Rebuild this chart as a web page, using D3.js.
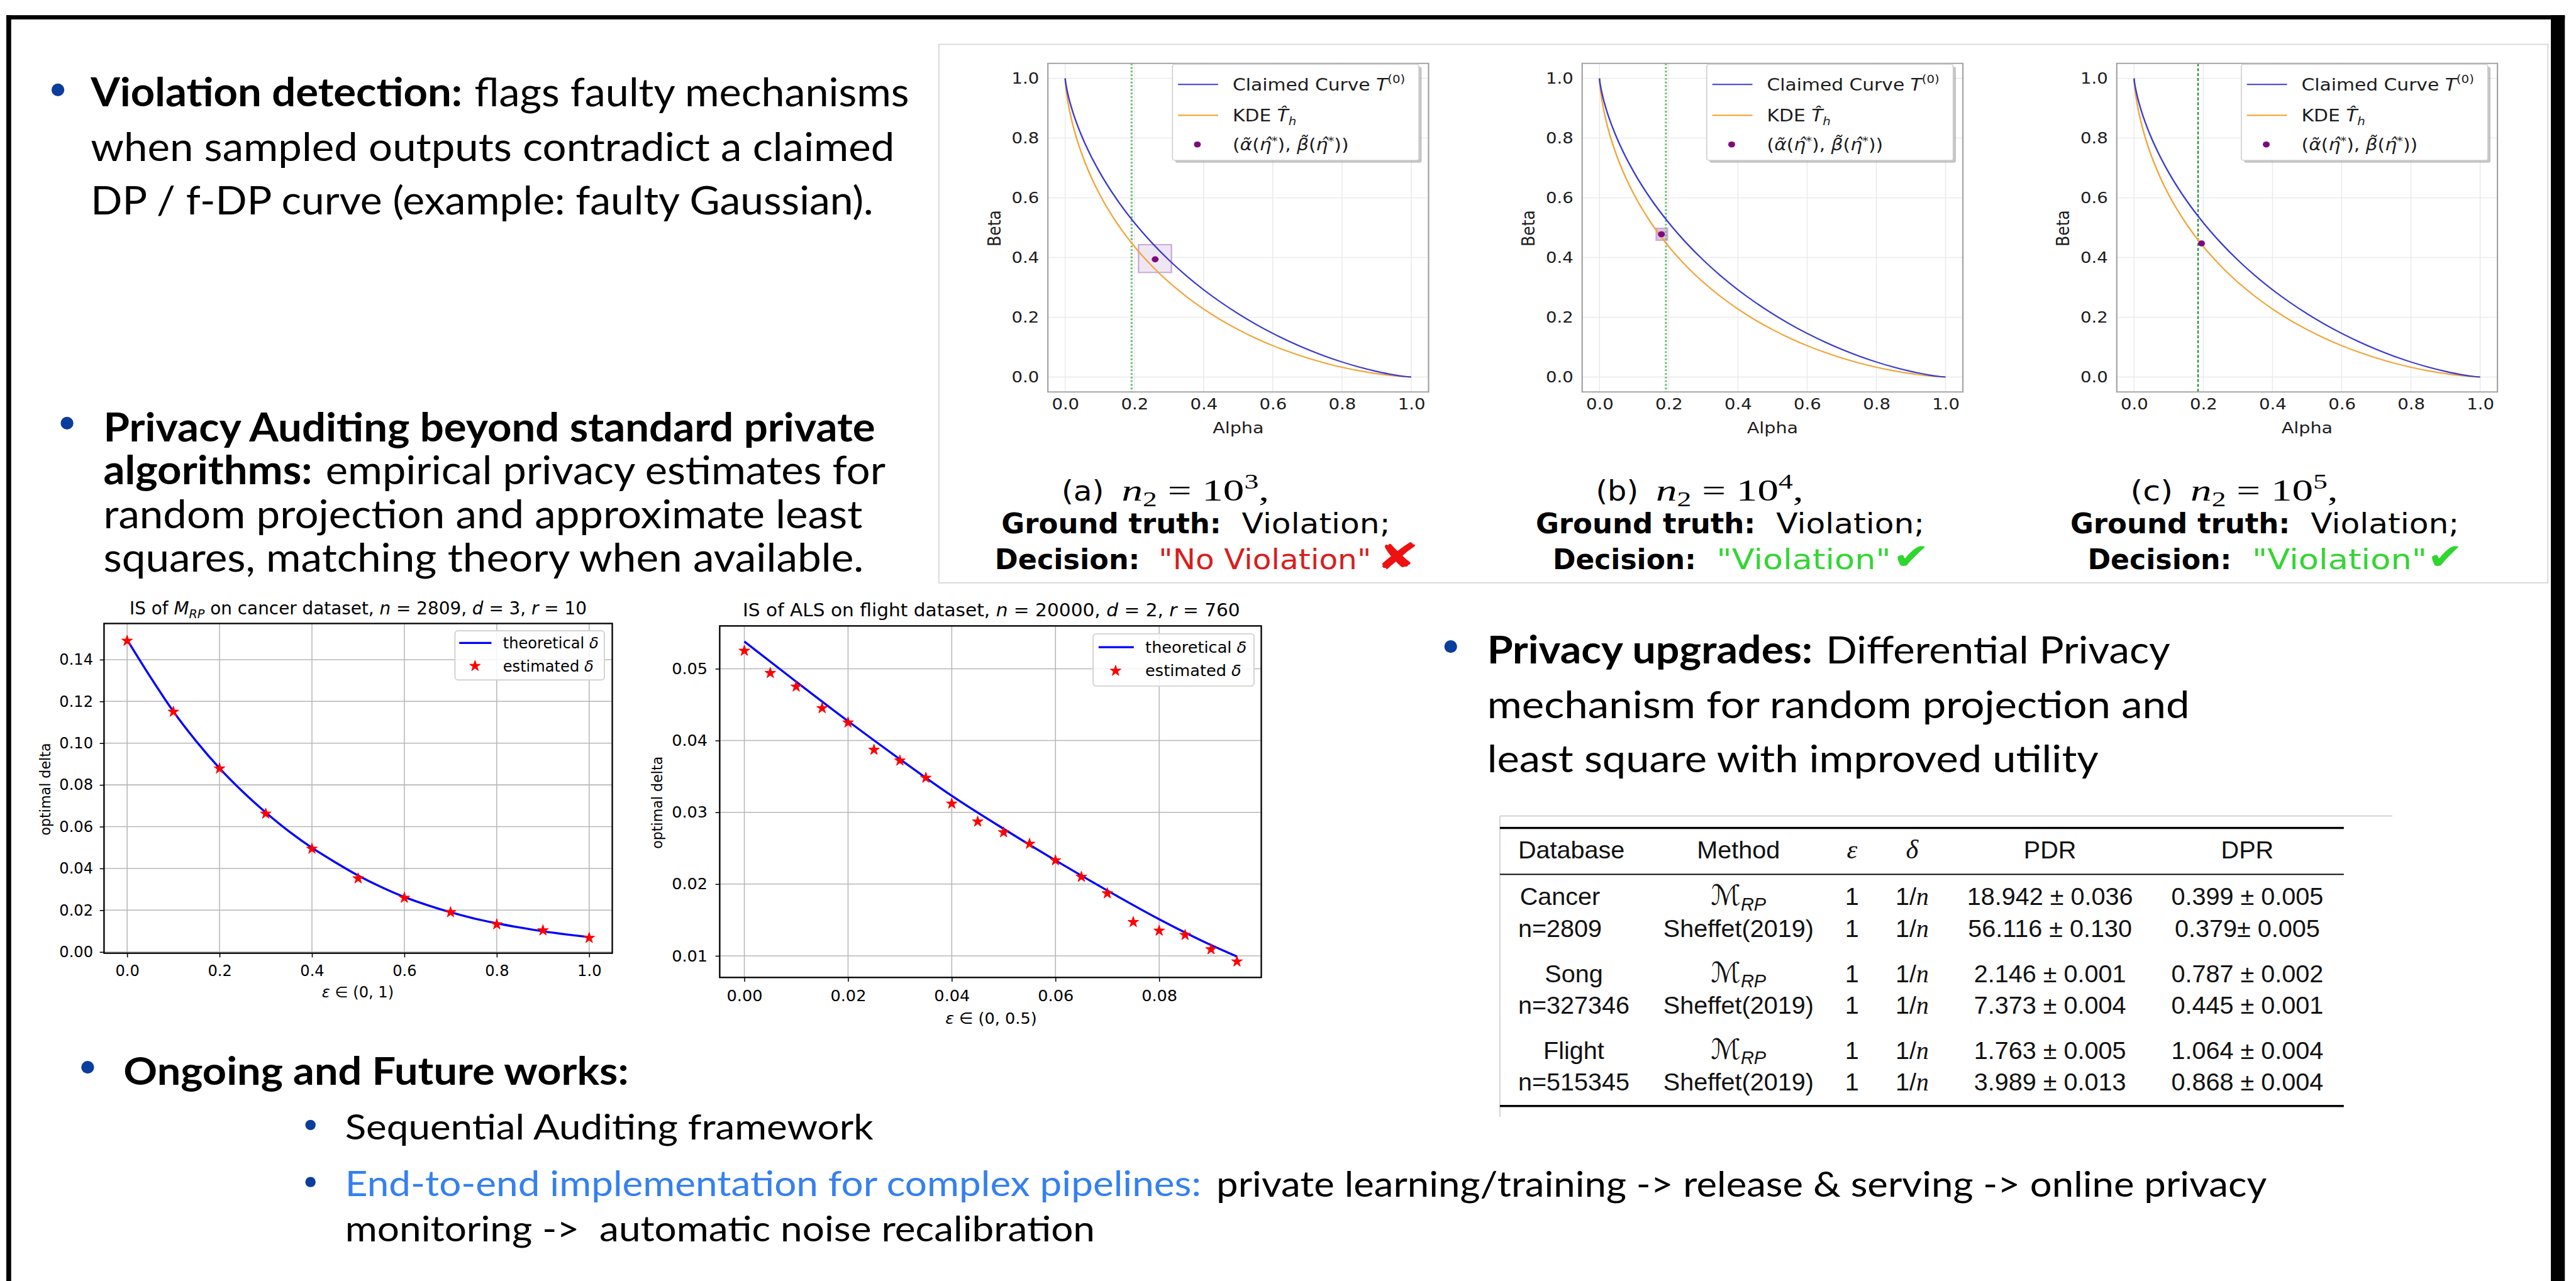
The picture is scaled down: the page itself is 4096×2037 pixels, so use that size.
<!DOCTYPE html>
<html>
<head>
<meta charset="utf-8">
<title>Privacy auditing panel</title>
<script src="https://cdn.jsdelivr.net/npm/d3@7/dist/d3.min.js"></script>
<style>
  html, body { margin: 0; padding: 0; background: #fff; overflow: hidden; }
  svg { display: block; }
  text { white-space: pre; }
</style>
</head>
<body>
<div id="poster"></div>
<script>
"use strict";

// ---------- values ----------

// trade-off curves of the three top panels (alpha -> beta)
const alphaGrid   = [0, 0.001, 0.002, 0.005, 0.01, 0.02, 0.03, 0.05, 0.075, 0.1, 0.15, 0.2, 0.25, 0.3, 0.35, 0.4, 0.45, 0.5, 0.55, 0.6, 0.65, 0.7, 0.75, 0.8, 0.85, 0.9, 0.95, 0.98, 1.0];
const claimedBeta = [1, 0.989, 0.9812, 0.9621, 0.9365, 0.8950, 0.8601, 0.8009, 0.7388, 0.6850, 0.5934, 0.5166, 0.4501, 0.3914, 0.3392, 0.2923, 0.2501, 0.2119, 0.1773, 0.1461, 0.1180, 0.0927, 0.0702, 0.0503, 0.0332, 0.0187, 0.0072, 0.0022, 0];
const kdeBeta     = [1, 0.9817, 0.9698, 0.9425, 0.9076, 0.8540, 0.8108, 0.7405, 0.6698, 0.6109, 0.5145, 0.4371, 0.3724, 0.3172, 0.2694, 0.2276, 0.1910, 0.1587, 0.1301, 0.1050, 0.0830, 0.0637, 0.0470, 0.0328, 0.0209, 0.0113, 0.0041, 0.0011, 0];
const unitTicks   = [0, 0.2, 0.4, 0.6, 0.8, 1.0];

const panelTags      = ["(a)", "(b)", "(c)"];
const panelExponents = ["3", "4", "5"];
const panelDecisions = ["\"No Violation\"", "\"Violation\"", "\"Violation\""];
const panelCorrect   = [false, true, true];
const panelThreshold = [0.192, 0.192, 0.185];
const panelPoint     = [[0.26, 0.394], [0.179, 0.478], [0.195, 0.447]];
const panelBox       = [[0.212, 0.307, 0.350, 0.443], [0.164, 0.196, 0.458, 0.498], null];

// IS of M_RP on cancer dataset
const cancerEps       = [0, 0.1, 0.2, 0.3, 0.4, 0.5, 0.6, 0.7, 0.8, 0.9, 1.0];
const cancerEstimated = [0.149, 0.115, 0.0878, 0.0662, 0.0494, 0.0352, 0.0259, 0.019, 0.0132, 0.0103, 0.0067];
const cancerTheoryEps = [0, 0.05, 0.1, 0.15, 0.2, 0.25, 0.3, 0.35, 0.4, 0.45, 0.5, 0.55, 0.6, 0.65, 0.7, 0.75, 0.8, 0.85, 0.9, 0.95, 1.0];
const cancerTheory    = [0.1495, 0.1318, 0.1152, 0.1008, 0.0880, 0.0768, 0.0668, 0.0578, 0.0499, 0.0430, 0.0366, 0.0311, 0.0263, 0.0224, 0.0190, 0.0161, 0.0137, 0.0117, 0.0099, 0.0084, 0.0071];
const cancerXTicks    = [0, 0.2, 0.4, 0.6, 0.8, 1.0];
const cancerYTicks    = [0, 0.02, 0.04, 0.06, 0.08, 0.10, 0.12, 0.14];

// IS of ALS on flight dataset
const flightEps       = [0, 0.005, 0.01, 0.015, 0.02, 0.025, 0.03, 0.035, 0.04, 0.045, 0.05, 0.055, 0.06, 0.065, 0.07, 0.075, 0.08, 0.085, 0.09, 0.095];
const flightEstimated = [0.0525, 0.0494, 0.0475, 0.0445, 0.0425, 0.0387, 0.0372, 0.0348, 0.0312, 0.0287, 0.0272, 0.0256, 0.0233, 0.0210, 0.0187, 0.0147, 0.0135, 0.0129, 0.0109, 0.0092];
const flightTheoryEps = [0, 0.01, 0.02, 0.03, 0.04, 0.05, 0.06, 0.07, 0.08, 0.09, 0.095];
const flightTheory    = [0.0538, 0.0482, 0.0427, 0.0374, 0.0323, 0.0277, 0.0233, 0.0191, 0.0151, 0.0115, 0.0099];
const flightXTicks    = [0, 0.02, 0.04, 0.06, 0.08];
const flightYTicks    = [0.01, 0.02, 0.03, 0.04, 0.05];

// table
const tableHeader = ["Database", "Method", "ε", "δ", "PDR", "DPR"];
const dbNames     = ["Cancer", "Song", "Flight"];
const dbSizes     = ["n=2809", "n=327346", "n=515345"];
const methodNames = [["ℳ", "RP"], ["Sheffet(2019)"]];
const epsValues   = ["1", "1"];
const pdrValues   = [["18.942 ± 0.036", "56.116 ± 0.130"], ["2.146 ± 0.001", "7.373 ± 0.004"], ["1.763 ± 0.005", "3.989 ± 0.013"]];
const dprValues   = [["0.399 ± 0.005", "0.379± 0.005"], ["0.787 ± 0.002", "0.445 ± 0.001"], ["1.064 ± 0.004", "0.868 ± 0.004"]];

// bullet text
const violationText = ["Violation detection:", "flags faulty mechanisms", "when sampled outputs contradict a claimed", "DP / f-DP curve (example: faulty Gaussian)."];
const auditText     = ["Privacy Auditing beyond standard private", "algorithms:", "empirical privacy estimates for", "random projection and approximate least", "squares, matching theory when available."];
const upgradeText   = ["Privacy upgrades:", "Differential Privacy", "mechanism for random projection and", "least square with improved utility"];
const futureText    = ["Ongoing and Future works:", "Sequential Auditing framework", "End-to-end implementation for complex pipelines:", "private learning/training -> release & serving -> online privacy", "monitoring ->  automatic noise recalibration"];

// ---------- setup ----------
const W = 4242, H = 2110;
const SANS  = "Lato, 'Open Sans', 'DejaVu Sans', sans-serif";
const MPL   = "'DejaVu Sans', sans-serif";
const TEX   = "'Liberation Sans', Arial, sans-serif";
const SERIF = "'Liberation Serif', 'DejaVu Serif', serif";
const bulletBlue = "#0b3d9c";

const svg = d3.select("#poster").append("svg")
    .attr("width", 4096).attr("height", 2037)
    .attr("viewBox", `0 0 ${W} ${H}`);

svg.append("rect").attr("width", W).attr("height", H).attr("fill", "#fff");

// outer frame
svg.append("rect").attr("x", 10).attr("y", 25).attr("width", 4214).attr("height", 7).attr("fill", "#000");
svg.append("rect").attr("x", 10).attr("y", 25).attr("width", 8).attr("height", H - 25).attr("fill", "#000");
svg.append("rect").attr("x", 4201).attr("y", 25).attr("width", 23).attr("height", H - 25).attr("fill", "#000");

function line(x0, x1, y, str, o) {
    const t = svg.append("text")
        .attr("x", x0).attr("y", y)
        .attr("font-family", o.font || SANS)
        .attr("font-size", o.size || 65)
        .attr("font-weight", o.bold ? 700 : 400)
        .attr("fill", o.fill || "#000")
        .text(str);
    if (x1 != null) t.attr("textLength", x1 - x0).attr("lengthAdjust", "spacingAndGlyphs");
    return t;
}
function bullet(cx, cy, r) {
    svg.append("circle").attr("cx", cx).attr("cy", cy).attr("r", r).attr("fill", bulletBlue);
}

// ---------- bullet blocks ----------
bullet(95, 148, 10.5);
line(149, 761, 175, violationText[0], {bold: true});
line(781, 1497, 175, violationText[1], {});
line(149, 1473, 265, violationText[2], {});
line(149, 1438, 353, violationText[3], {});

bullet(110, 697, 10.5);
line(170, 1441, 727, auditText[0], {bold: true});
line(170, 514, 798, auditText[1], {bold: true});
line(536, 1458, 798, auditText[2], {});
line(170, 1420, 870, auditText[3], {});
line(170, 1422, 942, auditText[4], {});

bullet(2389, 1065, 10.5);
line(2449, 2985, 1093, upgradeText[0], {bold: true, size: 63});
line(3007, 3574, 1093, upgradeText[1], {size: 63});
line(2449, 3606, 1183, upgradeText[2], {size: 63});
line(2449, 3456, 1272, upgradeText[3], {size: 63});

bullet(144, 1758, 10.5);
line(203, 1035, 1787, futureText[0], {bold: true, size: 63});
bullet(511, 1853, 8.5);
line(568, 1438, 1877, futureText[1], {size: 58});
bullet(511, 1947, 8.5);
line(568, 1978, 1970, futureText[2], {size: 58, fill: "#3580f0"});
line(2003, 3733, 1971, futureText[3], {size: 58});
line(568, 1803, 2045, futureText[4], {size: 58});

// ---------- top figure: three trade-off panels ----------
svg.append("rect").attr("x", 1546).attr("y", 73).attr("width", 2650).attr("height", 887)
    .attr("fill", "none").attr("stroke", "#d9d9d9").attr("stroke-width", 2);

const sx = 1.14;                 // the screenshot is stretched sideways
const pw = 627 / sx;
const panelLeft = [1725.5, 2605.5, 3486];
const axTop = 104.4, axBot = 645.6;
const px = d3.scaleLinear().domain([-0.05, 1.05]).range([0, pw]);
const py = d3.scaleLinear().domain([-0.05, 1.05]).range([axBot, axTop]);
const tradeLine = d3.line().x(d => px(d[0])).y(d => py(d[1])).curve(d3.curveMonotoneX);
const claimedPts = alphaGrid.map((a, i) => [a, claimedBeta[i]]);
const kdePts = alphaGrid.map((a, i) => [a, kdeBeta[i]]);
const claimedColor = "#3a3ad2", kdeColor = "#f3a53a", pointColor = "#7d0b7d";

const decisionLayout = [
    {dx: -87.5, dw: 239, tx: 182.5, tw: 350, mx: 540, mw: 72},
    {dx: -48.5, dw: 236, tx: 221.5, tw: 287, mx: 511, mw: 62},
    {dx: -48,   dw: 237, tx: 223,   tw: 288, mx: 511, mw: 60}
];

panelTags.forEach((tag, i) => {
    const g = svg.append("g").attr("transform", `translate(${panelLeft[i]},0) scale(${sx},1)`);

    g.append("g").selectAll("line").data(unitTicks).join("line")
        .attr("x1", d => px(d)).attr("x2", d => px(d)).attr("y1", axTop).attr("y2", axBot)
        .attr("stroke", "#ebebeb").attr("stroke-width", 1.4);
    g.append("g").selectAll("line").data(unitTicks).join("line")
        .attr("y1", d => py(d)).attr("y2", d => py(d)).attr("x1", 0).attr("x2", pw)
        .attr("stroke", "#ebebeb").attr("stroke-width", 1.4);

    const b = panelBox[i];
    if (b) {
        g.append("rect")
            .attr("x", px(b[0])).attr("y", py(b[3]))
            .attr("width", px(b[1]) - px(b[0])).attr("height", py(b[2]) - py(b[3]))
            .attr("fill", i === 0 ? "#efe6f4" : "#e2bde2").attr("stroke", "#c9a6d8").attr("stroke-width", 2);
    }

    const thr = panelThreshold[i];
    g.append("line")
        .attr("x1", px(thr)).attr("x2", px(thr)).attr("y1", axTop).attr("y2", axBot)
        .attr("stroke", i === 2 ? "#1f8f2f" : "#72bf78")
        .attr("stroke-width", i === 2 ? 2 : 3)
        .attr("stroke-dasharray", i === 2 ? "5,3" : "3,3");

    g.append("path").attr("d", tradeLine(kdePts)).attr("fill", "none").attr("stroke", kdeColor).attr("stroke-width", 2.2);
    g.append("path").attr("d", tradeLine(claimedPts)).attr("fill", "none").attr("stroke", claimedColor).attr("stroke-width", 2.2);

    g.append("circle").attr("cx", px(panelPoint[i][0])).attr("cy", py(panelPoint[i][1])).attr("r", 5).attr("fill", pointColor);

    g.append("rect").attr("x", 0).attr("y", axTop).attr("width", pw).attr("height", axBot - axTop)
        .attr("fill", "none").attr("stroke", "#a3a3a3").attr("stroke-width", 2);

    const xa = g.append("g").attr("transform", `translate(0,${axBot})`)
        .call(d3.axisBottom(px).tickValues(unitTicks).tickFormat(d3.format(".1f")).tickSize(0).tickPadding(11));
    xa.select(".domain").remove();
    xa.attr("font-family", MPL).attr("font-size", 25);
    xa.selectAll("text").attr("fill", "#1c1c1c");

    const ya = g.append("g")
        .call(d3.axisLeft(py).tickValues(unitTicks).tickFormat(d3.format(".1f")).tickSize(0).tickPadding(12.7));
    ya.select(".domain").remove();
    ya.attr("font-family", MPL).attr("font-size", 25);
    ya.selectAll("text").attr("fill", "#1c1c1c");

    g.append("text").attr("x", px(0.5)).attr("y", 714).attr("text-anchor", "middle")
        .attr("font-family", MPL).attr("font-size", 26).attr("fill", "#1c1c1c").text("Alpha");
    g.append("text").attr("transform", `translate(-77.6,376) rotate(-90)`).attr("text-anchor", "middle")
        .attr("dy", "0.35em").attr("font-family", MPL).attr("font-size", 26).attr("fill", "#1c1c1c").text("Beta");

    // legend with shadow
    const lg = g.append("g").attr("font-family", MPL).attr("font-size", 27).attr("fill", "#1c1c1c");
    lg.append("rect").attr("x", 184).attr("y", 110).attr("width", 356).attr("height", 158).attr("rx", 3)
        .attr("fill", "#7f7f7f").attr("opacity", 0.45);
    lg.append("rect").attr("x", 180).attr("y", 106).attr("width", 356).attr("height", 158).attr("rx", 3)
        .attr("fill", "#fff").attr("stroke", "#cfcfcf").attr("stroke-width", 1.5);
    lg.append("line").attr("x1", 188).attr("x2", 246).attr("y1", 139).attr("y2", 139)
        .attr("stroke", claimedColor).attr("stroke-width", 2.2);
    lg.append("line").attr("x1", 188).attr("x2", 246).attr("y1", 190).attr("y2", 190)
        .attr("stroke", kdeColor).attr("stroke-width", 2.2);
    lg.append("circle").attr("cx", 216).attr("cy", 238).attr("r", 5).attr("fill", pointColor);

    const t1 = lg.append("text").attr("x", 267).attr("y", 149);
    t1.append("tspan").text("Claimed Curve ");
    t1.append("tspan").attr("font-style", "italic").text("T");
    t1.append("tspan").attr("font-size", 18).attr("dy", -12).text("(0)");

    const t2 = lg.append("text").attr("x", 267).attr("y", 200);
    t2.append("tspan").text("KDE ");
    t2.append("tspan").attr("font-style", "italic").text("T\u0302");
    t2.append("tspan").attr("font-style", "italic").attr("font-size", 18).attr("dy", 6).text("h");

    const t3 = lg.append("text").attr("x", 267).attr("y", 248);
    t3.append("tspan").text("(");
    t3.append("tspan").attr("font-style", "italic").text("α\u0303");
    t3.append("tspan").text("(");
    t3.append("tspan").attr("font-style", "italic").text("η\u0302");
    t3.append("tspan").attr("font-size", 18).attr("dy", -10).text("*");
    t3.append("tspan").attr("dy", 10).text("), ");
    t3.append("tspan").attr("font-style", "italic").text("β\u0303");
    t3.append("tspan").text("(");
    t3.append("tspan").attr("font-style", "italic").text("η\u0302");
    t3.append("tspan").attr("font-size", 18).attr("dy", -10).text("*");
    t3.append("tspan").attr("dy", 10).text("))");

    // caption below the panel
    const L = panelLeft[i];
    line(L + 22.5, L + 92.5, 825, tag, {font: MPL, size: 46});
    const m = svg.append("text").attr("x", L + 121.5).attr("y", 825)
        .attr("font-family", SERIF).attr("font-size", 50)
        .attr("textLength", 243).attr("lengthAdjust", "spacingAndGlyphs");
    m.append("tspan").attr("font-style", "italic").text("n");
    m.append("tspan").attr("font-size", 34).attr("dy", 9).text("2");
    m.append("tspan").attr("dy", -9).text(" = 10");
    m.append("tspan").attr("font-size", 34).attr("dy", -20).text(panelExponents[i]);
    m.append("tspan").attr("dy", 20).text(",");

    line(L - 76.5, L + 285.5, 878, "Ground truth:", {font: MPL, size: 46, bold: true});
    line(L + 319.5, L + 564, 878, "Violation;", {font: MPL, size: 46});

    const dl = decisionLayout[i];
    line(L + dl.dx, L + dl.dx + dl.dw, 937, "Decision:", {font: MPL, size: 46, bold: true});
    line(L + dl.tx, L + dl.tx + dl.tw, 937, panelDecisions[i],
        {font: MPL, size: 46, fill: panelCorrect[i] ? "#33d633" : "#d81e1e"});
    line(L + dl.mx, L + dl.mx + dl.mw, 937, panelCorrect[i] ? "\u2714" : "\u2718",
        {font: MPL, size: 60, bold: true, fill: panelCorrect[i] ? "#2fd62f" : "#ee1111"});
});

// ---------- bottom charts: optimal delta ----------
const titleCancer = [["IS of "], ["M", "it"], ["RP", "sub"], [" on cancer dataset, "], ["n", "it"], [" = 2809, "], ["d", "it"], [" = 3, "], ["r", "it"], [" = 10"]];
const titleFlight = [["IS of ALS on flight dataset, "], ["n", "it"], [" = 20000, "], ["d", "it"], [" = 2, "], ["r", "it"], [" = 760"]];

const charts = [
    {x0: 170.95, x1: 1008.05, y0: 1027, y1: 1570, xDom: [-0.05, 1.05], yDom: [-0.00058, 0.1573],
     xTicks: cancerXTicks, yTicks: cancerYTicks, xFmt: ".1f", yFmt: ".2f", yPad: 11, xPad: 13,
     eps: cancerEps, est: cancerEstimated, thEps: cancerTheoryEps, th: cancerTheory,
     title: titleCancer, titleX: [213, 966], titleY: 1012, fs: 25,
     ylab: [74, 1300], xlab: "(0, 1)", xlabPos: [589, 1643],
     leg: {x: 749, y: 1039, w: 246, h: 81, lx0: 756, lx1: 809, ly: 1059, tx: 828, sx: 782, sy: 1097}},
    {x0: 1185, x1: 2077, y0: 1031, y1: 1610, xDom: [-0.00475, 0.09969], yDom: [0.00699, 0.05597],
     xTicks: flightXTicks, yTicks: flightYTicks, xFmt: ".2f", yFmt: ".2f", yPad: 13, xPad: 13.5,
     eps: flightEps, est: flightEstimated, thEps: flightTheoryEps, th: flightTheory,
     title: titleFlight, titleX: [1223, 2042], titleY: 1015, fs: 26.5,
     ylab: [1082, 1322], xlab: "(0, 0.5)", xlabPos: [1632, 1686],
     leg: {x: 1800, y: 1044, w: 265, h: 86, lx0: 1809, lx1: 1867, ly: 1066, tx: 1886, sx: 1837, sy: 1105}}
];

const star = d3.symbol().type(d3.symbolStar).size(100);

charts.forEach(c => {
    const x = d3.scaleLinear().domain(c.xDom).range([c.x0, c.x1]);
    const y = d3.scaleLinear().domain(c.yDom).range([c.y1, c.y0]);
    const g = svg.append("g");

    g.append("g").selectAll("line").data(c.xTicks).join("line")
        .attr("x1", d => x(d)).attr("x2", d => x(d)).attr("y1", c.y0).attr("y2", c.y1)
        .attr("stroke", "#b7b7b7").attr("stroke-width", 1.6);
    g.append("g").selectAll("line").data(c.yTicks).join("line")
        .attr("y1", d => y(d)).attr("y2", d => y(d)).attr("x1", c.x0).attr("x2", c.x1)
        .attr("stroke", "#b7b7b7").attr("stroke-width", 1.6);

    const theory = c.thEps.map((e, i) => [e, c.th[i]]);
    g.append("path")
        .attr("d", d3.line().x(d => x(d[0])).y(d => y(d[1])).curve(d3.curveMonotoneX)(theory))
        .attr("fill", "none").attr("stroke", "#0000ff").attr("stroke-width", 3.5);

    g.append("g").selectAll("path").data(c.eps.map((e, i) => [e, c.est[i]])).join("path")
        .attr("d", star)
        .attr("transform", d => `translate(${x(d[0])},${y(d[1])})`)
        .attr("fill", "#ff0000").attr("stroke", "#ff0000").attr("stroke-width", 1);

    g.append("rect").attr("x", c.x0).attr("y", c.y0).attr("width", c.x1 - c.x0).attr("height", c.y1 - c.y0)
        .attr("fill", "none").attr("stroke", "#000").attr("stroke-width", 2.4);

    const xa = g.append("g").attr("transform", `translate(0,${c.y1})`)
        .call(d3.axisBottom(x).tickValues(c.xTicks).tickFormat(d3.format(c.xFmt)).tickSize(7).tickPadding(c.xPad));
    xa.select(".domain").remove();
    xa.attr("font-family", MPL).attr("font-size", c.fs);
    xa.selectAll("line").attr("stroke", "#000").attr("stroke-width", 1.6);

    const ya = g.append("g").attr("transform", `translate(${c.x0},0)`)
        .call(d3.axisLeft(y).tickValues(c.yTicks).tickFormat(d3.format(c.yFmt)).tickSize(7).tickPadding(c.yPad));
    ya.select(".domain").remove();
    ya.attr("font-family", MPL).attr("font-size", c.fs);
    ya.selectAll("line").attr("stroke", "#000").attr("stroke-width", 1.6);

    // title
    const tt = g.append("text").attr("x", c.titleX[0]).attr("y", c.titleY)
        .attr("font-family", MPL).attr("font-size", 29)
        .attr("textLength", c.titleX[1] - c.titleX[0]).attr("lengthAdjust", "spacingAndGlyphs");
    let shifted = false;
    c.title.forEach(p => {
        const ts = tt.append("tspan").text(p[0]);
        if (p[1] === "it") ts.attr("font-style", "italic");
        if (p[1] === "sub") { ts.attr("font-style", "italic").attr("font-size", 20).attr("dy", 6); shifted = true; }
        else if (shifted) { ts.attr("dy", -6); shifted = false; }
    });

    g.append("text").attr("transform", `translate(${c.ylab[0]},${c.ylab[1]}) rotate(-90)`)
        .attr("text-anchor", "middle").attr("dy", "0.35em")
        .attr("font-family", MPL).attr("font-size", 23).text("optimal delta");

    const xl = g.append("text").attr("x", c.xlabPos[0]).attr("y", c.xlabPos[1])
        .attr("text-anchor", "middle").attr("font-family", MPL).attr("font-size", c.fs);
    xl.append("tspan").attr("font-style", "italic").text("ε");
    xl.append("tspan").text(" ∈ " + c.xlab);

    // legend
    const lg = c.leg;
    g.append("rect").attr("x", lg.x).attr("y", lg.y).attr("width", lg.w).attr("height", lg.h).attr("rx", 5)
        .attr("fill", "#fff").attr("fill-opacity", 0.85).attr("stroke", "#d2d2d2").attr("stroke-width", 2);
    g.append("line").attr("x1", lg.lx0).attr("x2", lg.lx1).attr("y1", lg.ly).attr("y2", lg.ly)
        .attr("stroke", "#0000ff").attr("stroke-width", 3.5);
    g.append("path").attr("d", star).attr("transform", `translate(${lg.sx},${lg.sy})`)
        .attr("fill", "#ff0000").attr("stroke", "#ff0000");
    const l1 = g.append("text").attr("x", lg.tx).attr("y", lg.ly + 9).attr("font-family", MPL).attr("font-size", c.fs);
    l1.append("tspan").text("theoretical ");
    l1.append("tspan").attr("font-style", "italic").text("δ");
    const l2 = g.append("text").attr("x", lg.tx).attr("y", lg.sy + 9).attr("font-family", MPL).attr("font-size", c.fs);
    l2.append("tspan").text("estimated ");
    l2.append("tspan").attr("font-style", "italic").text("δ");
});

// ---------- results table ----------
svg.append("line").attr("x1", 2470).attr("x2", 3940).attr("y1", 1344).attr("y2", 1344)
    .attr("stroke", "#d4d4d4").attr("stroke-width", 2);
svg.append("line").attr("x1", 2470).attr("x2", 2470).attr("y1", 1344).attr("y2", 1840)
    .attr("stroke", "#d4d4d4").attr("stroke-width", 2);

svg.append("rect").attr("x", 2470).attr("y", 1362).attr("width", 1390).attr("height", 3.5).attr("fill", "#000");
svg.append("rect").attr("x", 2470).attr("y", 1439.2).attr("width", 1390).attr("height", 2).attr("fill", "#000");
svg.append("rect").attr("x", 2470).attr("y", 1820).attr("width", 1390).attr("height", 3.5).attr("fill", "#000");

const tbl = svg.append("g").attr("font-family", TEX).attr("font-size", 41).attr("fill", "#111");
const colX = [2500, 2863, 3050, 3149, 3376, 3701];

tableHeader.forEach((h, j) => {
    const t = tbl.append("text").attr("x", colX[j]).attr("y", 1414)
        .attr("text-anchor", j === 0 ? "start" : "middle").text(h);
    if (j === 2 || j === 3) t.attr("font-family", SERIF).attr("font-style", "italic").attr("font-size", 44);
});

dbNames.forEach((name, gi) => {
    const rows = [1491 + gi * 126.5, 1543.5 + gi * 126.5];
    // database block: left aligned column, lines centred inside it
    const a = tbl.append("text").attr("y", rows[0]).attr("text-anchor", "middle").text(name);
    const s = tbl.append("text").attr("y", rows[1]).attr("text-anchor", "middle").text(dbSizes[gi]);
    const bw = Math.max(a.node().getComputedTextLength(), s.node().getComputedTextLength());
    a.attr("x", colX[0] + bw / 2);
    s.attr("x", colX[0] + bw / 2);

    rows.forEach((ry, r) => {
        const mn = methodNames[r];
        const mt = tbl.append("text").attr("x", colX[1]).attr("y", ry).attr("text-anchor", "middle");
        if (mn.length > 1) {
            mt.append("tspan").attr("font-family", MPL).attr("font-size", 46).text(mn[0]);
            mt.append("tspan").attr("font-style", "italic").attr("font-size", 30).attr("dy", 9).text(mn[1]);
        } else {
            mt.text(mn[0]);
        }
        tbl.append("text").attr("x", colX[2]).attr("y", ry).attr("text-anchor", "middle").text(epsValues[r]);
        const dt = tbl.append("text").attr("x", colX[3]).attr("y", ry).attr("text-anchor", "middle");
        dt.append("tspan").text("1/");
        dt.append("tspan").attr("font-family", SERIF).attr("font-style", "italic").text("n");
        tbl.append("text").attr("x", colX[4]).attr("y", ry).attr("text-anchor", "middle").text(pdrValues[gi][r]);
        tbl.append("text").attr("x", colX[5]).attr("y", ry).attr("text-anchor", "middle").text(dprValues[gi][r]);
    });
});
</script>
</body>
</html>
